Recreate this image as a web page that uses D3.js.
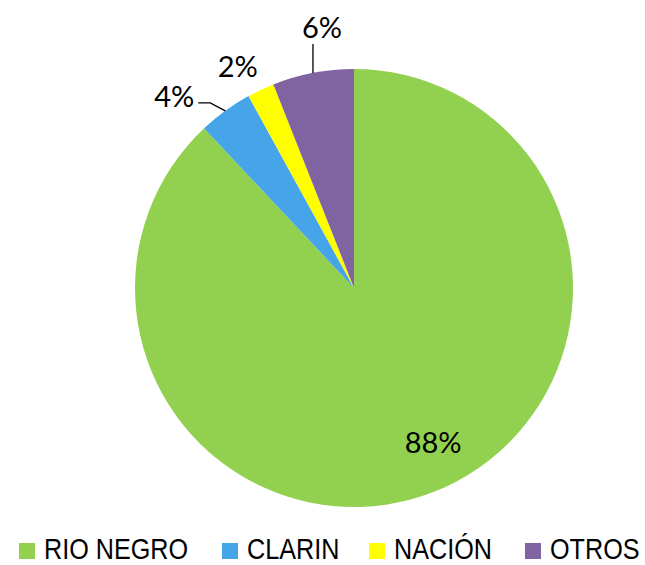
<!DOCTYPE html>
<html>
<head>
<meta charset="utf-8">
<script src="https://cdn.jsdelivr.net/npm/d3@7"></script>
<style>
  body { margin: 0; background: #fff; }
  svg text { fill: #000; }
</style>
</head>
<body>
<div id="chart"></div>
<script>
var categories = ["RIO NEGRO", "CLARIN", "NACIÓN", "OTROS"];
var values = [88, 4, 2, 6];
var labels = ["88%", "4%", "2%", "6%"];
var colors = ["#92D050", "#45A5E8", "#FFFF00", "#8064A2"];

var width = 645,
  height = 565;

var cx = 354, cy = 288, radius = 219;

var svg = d3.select("#chart")
  .append("svg")
  .attr("width", width)
  .attr("height", height);

var g = svg.append("g")
  .attr("transform", "translate(" + cx + "," + cy + ")");

var pie = d3.pie().sort(null).value(function(d) { return d; });
var arc = d3.arc().innerRadius(0).outerRadius(radius);

var arcs = pie(values);

g.selectAll("path")
  .data(arcs)
  .enter().append("path")
  .attr("d", arc)
  .attr("fill", function(d, i) { return colors[i]; });

// point on the rim at a slice's middle angle
function rim(d, r) {
  var a = (d.startAngle + d.endAngle) / 2;
  return [r * Math.sin(a), -r * Math.cos(a)];
}

// label layout: offsets from the rim point, like excel puts them
var labelFont = "Lato, 'Open Sans', sans-serif";
var layout = [
  null,
  { dx: -51, dy: -15 },
  { dx: -23, dy: -24 },
  { dx: 9, dy: -46 }
];

arcs.forEach(function(d, i) {
  var p = rim(d, radius);
  var lx, ly;
  if (i === 0) {
    // big slice: label inside, lower right
    var a = 152.8 * Math.PI / 180;
    lx = 0.79 * radius * Math.sin(a);
    ly = -0.79 * radius * Math.cos(a);
  } else {
    lx = p[0] + layout[i].dx;
    ly = p[1] + layout[i].dy;
  }
  if (i === 1) {
    g.append("polyline")
      .attr("points", [p, [p[0] - 15, p[1] - 8], [p[0] - 27, p[1] - 8]].map(function(q) { return q.join(","); }).join(" "))
      .attr("fill", "none")
      .attr("stroke", "#000")
      .attr("stroke-width", 1.3);
  }
  if (i === 3) {
    g.append("line")
      .attr("x1", p[0]).attr("y1", p[1])
      .attr("x2", p[0]).attr("y2", p[1] - 29)
      .attr("stroke", "#000")
      .attr("stroke-width", 1.3);
  }
  g.append("text")
    .attr("x", lx)
    .attr("y", ly)
    .attr("text-anchor", "middle")
    .attr("dominant-baseline", "central")
    .style("font-family", labelFont)
    .style("font-size", "29px")
    .text(labels[i]);
});

// legend
var legendX = [19, 222, 369, 525];
var legend = svg.append("g").attr("transform", "translate(0,559)");
var items = legend.selectAll("g")
  .data(categories)
  .enter().append("g")
  .attr("transform", function(d, i) { return "translate(" + legendX[i] + ",0)"; });

items.append("rect")
  .attr("x", 0).attr("y", -16)
  .attr("width", 16).attr("height", 16)
  .attr("fill", function(d, i) { return colors[i]; });

// narrow sans: squeeze liberation sans horizontally
items.append("text")
  .attr("transform", "translate(25,0) scale(0.84,1)")
  .attr("y", 0)
  .style("font-family", "'Liberation Sans', Arial, sans-serif")
  .style("font-size", "30px")
  .text(function(d) { return d; });
</script>
</body>
</html>
